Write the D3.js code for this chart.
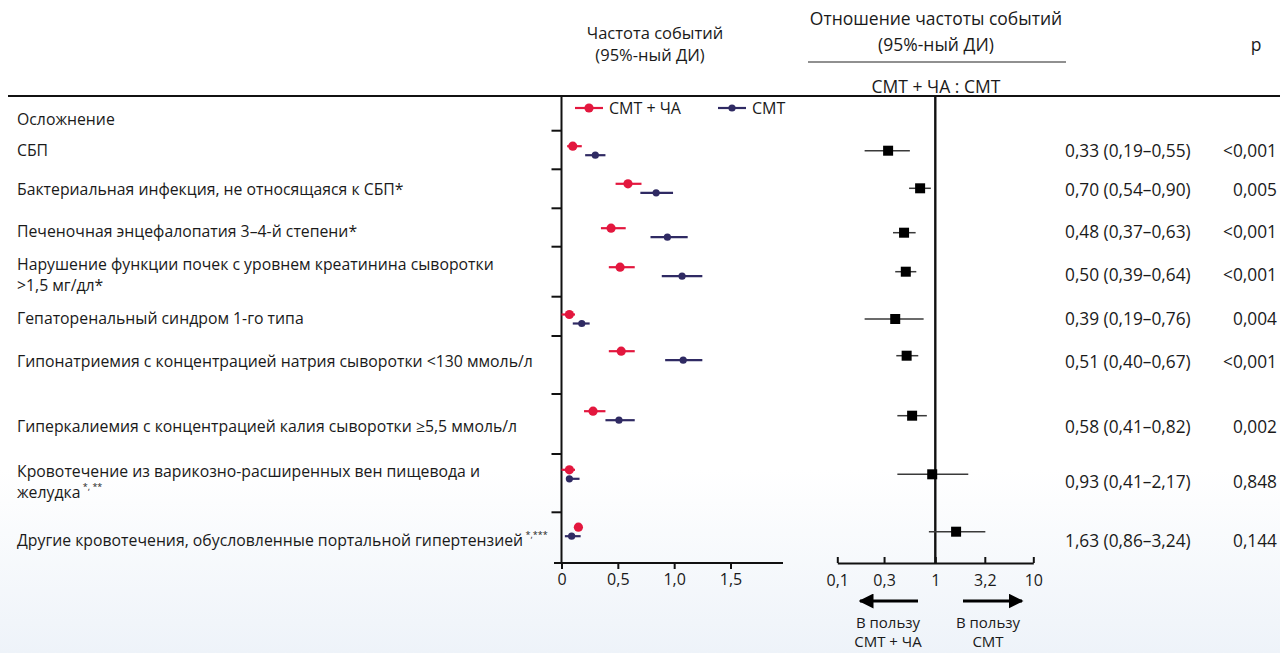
<!DOCTYPE html>
<html>
<head>
<meta charset="utf-8">
<script src="https://cdn.jsdelivr.net/npm/d3@7"></script>
<style>
  body { margin: 0; background: #fff; }
  svg text { font-family: "Open Sans", "Noto Sans", sans-serif; fill: #1a1a1a; }
</style>
</head>
<body>
<div id="chart"></div>
<script>
// ---- data ----
var complications = [
    ["СБП"],
    ["Бактериальная инфекция, не относящаяся к СБП*"],
    ["Печеночная энцефалопатия 3–4-й степени*"],
    ["Нарушение функции почек с уровнем креатинина сыворотки", ">1,5 мг/дл*"],
    ["Гепаторенальный синдром 1-го типа"],
    ["Гипонатриемия с концентрацией натрия сыворотки <130 ммоль/л"],
    ["Гиперкалиемия с концентрацией калия сыворотки ≥5,5 ммоль/л"],
    ["Кровотечение из варикозно-расширенных вен пищевода и", "желудка"],
    ["Другие кровотечения, обусловленные портальной гипертензией"]
];
var labelSup = ["", "", "", "", "", "", "", "*, **", "*,***"];

// частота событий, СМТ + ЧА
var rateCombo   = [0.10, 0.59, 0.44, 0.52, 0.07, 0.53, 0.28, 0.07, 0.15];
var rateComboLo = [0.05, 0.48, 0.35, 0.42, 0.00, 0.42, 0.20, 0.00, 0.13];
var rateComboHi = [0.18, 0.71, 0.57, 0.65, 0.12, 0.65, 0.39, 0.12, 0.17];
// частота событий, СМТ
var rateSmt   = [0.30, 0.84, 0.94, 1.07, 0.18, 1.08, 0.51, 0.07, 0.09];
var rateSmtLo = [0.21, 0.70, 0.79, 0.89, 0.10, 0.92, 0.39, 0.04, 0.03];
var rateSmtHi = [0.39, 0.99, 1.12, 1.25, 0.25, 1.25, 0.65, 0.16, 0.17];

// отношение частоты событий
var ratio   = [0.33, 0.70, 0.48, 0.50, 0.39, 0.51, 0.58, 0.93, 1.63];
var ratioLo = [0.19, 0.54, 0.37, 0.39, 0.19, 0.40, 0.41, 0.41, 0.86];
var ratioHi = [0.55, 0.90, 0.63, 0.64, 0.76, 0.67, 0.82, 2.17, 3.24];
var pValues = ["<0,001", "0,005", "<0,001", "<0,001", "0,004", "<0,001", "0,002", "0,848", "0,144"];

var rateTicks  = [0, 0.5, 1.0, 1.5];
var ratioTicks = [0.1, 0.3, 1, 3.2, 10];

// ---- layout ----
var width = 1280, height = 653;
var markY = [150.7, 188.3, 232.7, 271.7, 319, 355.7, 415.7, 474.3, 531.7];
var textY = [150, 189, 231, 274, 318, 361, 426, 481, 540];
var sepY  = [130.7, 169.3, 208.3, 246.7, 296.7, 336, 394, 454, 512.3];
var topY = 96, axisY = 563;
var red = "#e3173e", navy = "#2f2a63";
var fs = 15.8, fsHead = 17.5, fsTable = 17.3;

var fmt = function(v) { return d3.format(".2f")(v).replace(".", ","); };

var svg = d3.select("#chart").append("svg")
    .attr("width", width)
    .attr("height", height);

// background fade at the bottom
var grad = svg.append("defs").append("linearGradient")
    .attr("id", "bg-grad")
    .attr("x1", "0%").attr("x2", "0%")
    .attr("y1", "0%").attr("y2", "100%");
grad.append("stop").attr("offset", "0%").style("stop-color", "#ffffff");
grad.append("stop").attr("offset", "100%").style("stop-color", "#eef3f9");
svg.append("rect").attr("width", width).attr("height", height).attr("fill", "#fff");
svg.append("rect").attr("y", 470).attr("width", width).attr("height", height - 470).attr("fill", "url(#bg-grad)");

var rowY = d3.scaleOrdinal().domain(d3.range(9)).range(markY);
var rowText = d3.scaleOrdinal().domain(d3.range(9)).range(textY);

var x = d3.scaleLinear().domain([0, 1.5]).range([561.5, 730.5]);
var xr = d3.scaleLog().domain([0.1, 10]).range([837.3, 1033.3]);

// ---- headers ----
function centered(tx, ty, str, size) {
    return svg.append("text")
        .attr("x", tx).attr("y", ty)
        .attr("text-anchor", "middle")
        .attr("dominant-baseline", "central")
        .style("font-size", (size || fs) + "px")
        .text(str);
}
centered(655, 32, "Частота событий", 16.5);
centered(650, 54, "(95%-ный ДИ)", 16.5);
centered(936, 18, "Отношение частоты событий", fsHead);
centered(936, 44, "(95%-ный ДИ)", fsHead);
centered(936, 86, "СМТ + ЧА : СМТ", fsHead);
centered(1256, 44, "p", fsHead);
svg.append("line")
    .attr("x1", 808).attr("x2", 1066).attr("y1", 62).attr("y2", 62)
    .attr("stroke", "#222").attr("stroke-width", 1.2);

// top rule
svg.append("line")
    .attr("x1", 8).attr("x2", width).attr("y1", topY).attr("y2", topY)
    .attr("stroke", "#111").attr("stroke-width", 2.2);

// ---- row labels ----
svg.append("text")
    .attr("x", 17).attr("y", 119)
    .attr("dominant-baseline", "central")
    .style("font-size", fs + "px")
    .text("Осложнение");

complications.forEach(function(lines, i) {
    var n = lines.length;
    var t = svg.append("text")
        .attr("x", 17)
        .attr("y", rowText(i) - (n - 1) * 10.5)
        .attr("dominant-baseline", "central")
        .style("font-size", fs + "px");
    lines.forEach(function(line, j) {
        t.append("tspan").attr("x", 17).attr("dy", j === 0 ? 0 : 21).text(line);
    });
    if (labelSup[i]) {
        t.append("tspan")
            .attr("dy", -6)
            .style("font-size", "9px")
            .text(" " + labelSup[i]);
    }
});

// ---- left panel: event rates ----
var left = svg.append("g");
left.append("line")
    .attr("x1", x(0)).attr("x2", x(0)).attr("y1", topY).attr("y2", axisY)
    .attr("stroke", "#111").attr("stroke-width", 2);
left.selectAll(".sep")
    .data(sepY)
    .enter().append("line")
    .attr("class", "sep")
    .attr("x1", x(0) - 10).attr("x2", x(0))
    .attr("y1", function(d) { return d; }).attr("y2", function(d) { return d; })
    .attr("stroke", "#111").attr("stroke-width", 2);

var xAxis = left.append("g")
    .attr("transform", "translate(0," + axisY + ")")
    .call(d3.axisBottom(x).tickValues(rateTicks).tickSize(6).tickSizeOuter(0).tickPadding(5)
        .tickFormat(function(d) { return d === 0 ? "0" : d3.format(".1f")(d).replace(".", ","); }));
xAxis.select(".domain").remove();
xAxis.append("line")
    .attr("x1", 554).attr("x2", 783)
    .attr("stroke", "#111").attr("stroke-width", 2);
xAxis.selectAll(".tick line").attr("stroke", "#111").attr("stroke-width", 2);
xAxis.selectAll(".tick text")
    .style("font-size", "16px")
    .style("font-family", "'Open Sans', 'Noto Sans', sans-serif")
    .attr("fill", "#1a1a1a");

var idx = d3.range(9);
function drawSeries(vals, lo, hi, offset, color, r, cls) {
    var g = left.append("g").attr("class", cls);
    g.selectAll("line")
        .data(idx)
        .enter().append("line")
        .attr("x1", function(i) { return x(lo[i]); })
        .attr("x2", function(i) { return x(hi[i]); })
        .attr("y1", function(i) { return rowY(i) + offset; })
        .attr("y2", function(i) { return rowY(i) + offset; })
        .attr("stroke", color).attr("stroke-width", 2.2);
    g.selectAll("circle")
        .data(idx)
        .enter().append("circle")
        .attr("cx", function(i) { return x(vals[i]); })
        .attr("cy", function(i) { return rowY(i) + offset; })
        .attr("r", r)
        .attr("fill", color);
}
drawSeries(rateSmt, rateSmtLo, rateSmtHi, 4.5, navy, 3.6, "smt");
drawSeries(rateCombo, rateComboLo, rateComboHi, -4.5, red, 4.6, "combo");

// legend
var legend = [
    { name: "СМТ + ЧА", color: red, r: 4.6, x0: 575 },
    { name: "СМТ", color: navy, r: 3.6, x0: 718 }
];
var lg = svg.selectAll(".legend")
    .data(legend)
    .enter().append("g")
    .attr("class", "legend")
    .attr("transform", function(d) { return "translate(" + d.x0 + ",108)"; });
lg.append("line").attr("x1", 0).attr("x2", 28)
    .attr("stroke", function(d) { return d.color; }).attr("stroke-width", 2.2);
lg.append("circle").attr("cx", 14).attr("r", function(d) { return d.r; })
    .attr("fill", function(d) { return d.color; });
lg.append("text").attr("x", 34)
    .attr("dominant-baseline", "central")
    .style("font-size", "16px")
    .text(function(d) { return d.name; });

// ---- right panel: ratio ----
var right = svg.append("g");
right.append("line")
    .attr("x1", xr(1)).attr("x2", xr(1)).attr("y1", topY).attr("y2", axisY)
    .attr("stroke", "#111").attr("stroke-width", 2.4);

var rAxis = right.append("g")
    .attr("transform", "translate(0," + axisY + ")")
    .call(d3.axisBottom(xr).tickValues(ratioTicks).tickSize(-6).tickSizeOuter(0).tickPadding(12)
        .tickFormat(function(d) { return String(d).replace(".", ","); }));
rAxis.select(".domain").attr("stroke", "#111").attr("stroke-width", 2);
rAxis.selectAll(".tick line").attr("stroke", "#111").attr("stroke-width", 2);
rAxis.selectAll(".tick text")
    .style("font-size", "16px")
    .style("font-family", "'Open Sans', 'Noto Sans', sans-serif")
    .attr("fill", "#1a1a1a");

right.selectAll(".ci")
    .data(idx)
    .enter().append("line")
    .attr("class", "ci")
    .attr("x1", function(i) { return xr(ratioLo[i]); })
    .attr("x2", function(i) { return xr(ratioHi[i]); })
    .attr("y1", function(i) { return rowY(i); })
    .attr("y2", function(i) { return rowY(i); })
    .attr("stroke", "#3a3a3a").attr("stroke-width", 1.5);
right.selectAll(".est")
    .data(idx)
    .enter().append("rect")
    .attr("class", "est")
    .attr("x", function(i) { return xr(ratio[i]) - 5; })
    .attr("y", function(i) { return rowY(i) - 5; })
    .attr("width", 10).attr("height", 10)
    .attr("fill", "#000");

// arrows
var defs = svg.select("defs");
defs.append("marker")
    .attr("id", "arrow")
    .attr("viewBox", "0 0 10 10")
    .attr("refX", 9).attr("refY", 5)
    .attr("markerWidth", 5).attr("markerHeight", 5)
    .attr("markerUnits", "strokeWidth")
    .attr("orient", "auto")
    .append("path").attr("d", "M0,0 L10,5 L0,10 Z").attr("fill", "#000");
right.append("line")
    .attr("x1", 918).attr("x2", 860).attr("y1", 601).attr("y2", 601)
    .attr("stroke", "#000").attr("stroke-width", 3)
    .attr("marker-end", "url(#arrow)");
right.append("line")
    .attr("x1", 963).attr("x2", 1022).attr("y1", 601).attr("y2", 601)
    .attr("stroke", "#000").attr("stroke-width", 3)
    .attr("marker-end", "url(#arrow)");
centered(888, 622, "В пользу", 15);
centered(888, 641, "СМТ + ЧА", 15);
centered(988, 622, "В пользу", 15);
centered(988, 641, "СМТ", 15);

// ---- table ----
svg.selectAll(".hr")
    .data(idx)
    .enter().append("text")
    .attr("class", "hr")
    .attr("x", 1065)
    .attr("y", function(i) { return rowText(i); })
    .attr("dominant-baseline", "central")
    .style("font-size", fsTable + "px")
    .text(function(i) { return fmt(ratio[i]) + " (" + fmt(ratioLo[i]) + "–" + fmt(ratioHi[i]) + ")"; });
svg.selectAll(".pv")
    .data(idx)
    .enter().append("text")
    .attr("class", "pv")
    .attr("x", 1277)
    .attr("y", function(i) { return rowText(i); })
    .attr("text-anchor", "end")
    .attr("dominant-baseline", "central")
    .style("font-size", fsTable + "px")
    .text(function(i) { return pValues[i]; });
</script>
</body>
</html>
